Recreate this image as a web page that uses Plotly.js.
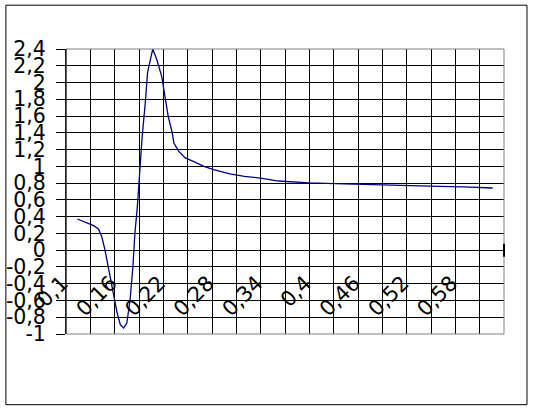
<!DOCTYPE html>
<html>
<head>
<meta charset="utf-8">
<script src="https://cdn.plot.ly/plotly-3.0.1.min.js"></script>
<style>html,body{margin:0;padding:0;background:#fff;}#chart{width:533px;height:410px;}</style>
</head>
<body>
<div id="chart"></div>
<script>
var xValues = [0.114, 0.134, 0.140, 0.144, 0.148, 0.152, 0.159, 0.163, 0.167, 0.171, 0.175, 0.179, 0.1825, 0.185, 0.188, 0.1903, 0.1936, 0.1977, 0.2005, 0.204, 0.207, 0.212, 0.218, 0.222, 0.226, 0.231, 0.233, 0.239, 0.247, 0.257, 0.270, 0.282, 0.302, 0.320, 0.340, 0.362, 0.380, 0.400, 0.420, 0.440, 0.460, 0.480, 0.500, 0.530, 0.560, 0.590, 0.626];
var yValues = [0.372, 0.292, 0.253, 0.164, 0.006, -0.194, -0.511, -0.749, -0.889, -0.928, -0.869, -0.591, -0.194, 0.205, 0.522, 0.841, 1.318, 1.756, 2.114, 2.272, 2.400, 2.272, 2.073, 1.835, 1.596, 1.398, 1.279, 1.178, 1.100, 1.059, 1.000, 0.960, 0.909, 0.880, 0.860, 0.825, 0.813, 0.803, 0.798, 0.792, 0.786, 0.777, 0.769, 0.764, 0.760, 0.754, 0.742];

var xTickVals = [0.10, 0.13, 0.16, 0.19, 0.22, 0.25, 0.28, 0.31, 0.34, 0.37, 0.40, 0.43, 0.46, 0.49, 0.52, 0.55, 0.58, 0.61, 0.64];
var xTickText = ["0,1", "", "0,16", "", "0,22", "", "0,28", "", "0,34", "", "0,4", "", "0,46", "", "0,52", "", "0,58", "", ""];
var yTickVals = [-1, -0.8, -0.6, -0.4, -0.2, 0, 0.2, 0.4, 0.6, 0.8, 1, 1.2, 1.4, 1.6, 1.8, 2, 2.2, 2.4];
var yTickText = ["-1", "-0,8", "-0,6", "-0,4", "-0,2", "0", "0,2", "0,4", "0,6", "0,8", "1", "1,2", "1,4", "1,6", "1,8", "2", "2,2", "2,4"];

var trace = {
  x: xValues, y: yValues, type: 'scatter', mode: 'lines',
  line: {color: '#000080', width: 1.3},
  hoverinfo: 'skip', cliponaxis: true
};

var layout = {
  width: 533, height: 410,
  margin: {l: 66, r: 29, t: 49, b: 76},
  paper_bgcolor: '#ffffff', plot_bgcolor: '#ffffff',
  showlegend: false,
  font: {family: 'DejaVu Sans', size: 20, color: '#000000'},
  xaxis: {
    range: [0.1, 0.64], tickmode: 'array', tickvals: xTickVals, ticktext: xTickText,
    tickangle: -45, showgrid: true, gridcolor: '#000000', gridwidth: 1,
    zeroline: false, showline: false, ticks: '',
    anchor: 'free', position: 0.24, ticklabelshift: -4,
    tickfont: {family: 'DejaVu Sans', size: 21, color: '#000000'}
  },
  yaxis: {
    range: [-1, 2.4], tickmode: 'array', tickvals: yTickVals, ticktext: yTickText,
    showgrid: true, gridcolor: '#000000', gridwidth: 1, zeroline: false,
    showline: true, linecolor: '#000000', linewidth: 1,
    ticks: 'outside', ticklen: 9, tickcolor: '#000000', tickwidth: 1,
    ticklabelstandoff: 6,
    tickfont: {family: 'DejaVu Sans', size: 20.5, color: '#000000'}
  },
  shapes: [
    {type: 'rect', xref: 'paper', yref: 'paper', x0: 0, x1: 1, y0: 0, y1: 1,
     line: {color: '#808080', width: 1}},
    {type: 'line', xref: 'paper', yref: 'paper', x0: 0, x1: 0, y0: 0, y1: 1,
     line: {color: '#000000', width: 1}},
    {type: 'line', xref: 'paper', yref: 'y', x0: 1, x1: 1, y0: -0.078, y1: 0.077,
     line: {color: '#000000', width: 2}},
    {type: 'rect', xref: 'paper', yref: 'paper', x0: -0.1373, x1: 1.0525, y0: -0.248, y1: 1.1537,
     line: {color: '#000000', width: 1}}
  ]
};

Plotly.newPlot('chart', [trace], layout, {displayModeBar: false, staticPlot: true});
</script>
</body>
</html>
